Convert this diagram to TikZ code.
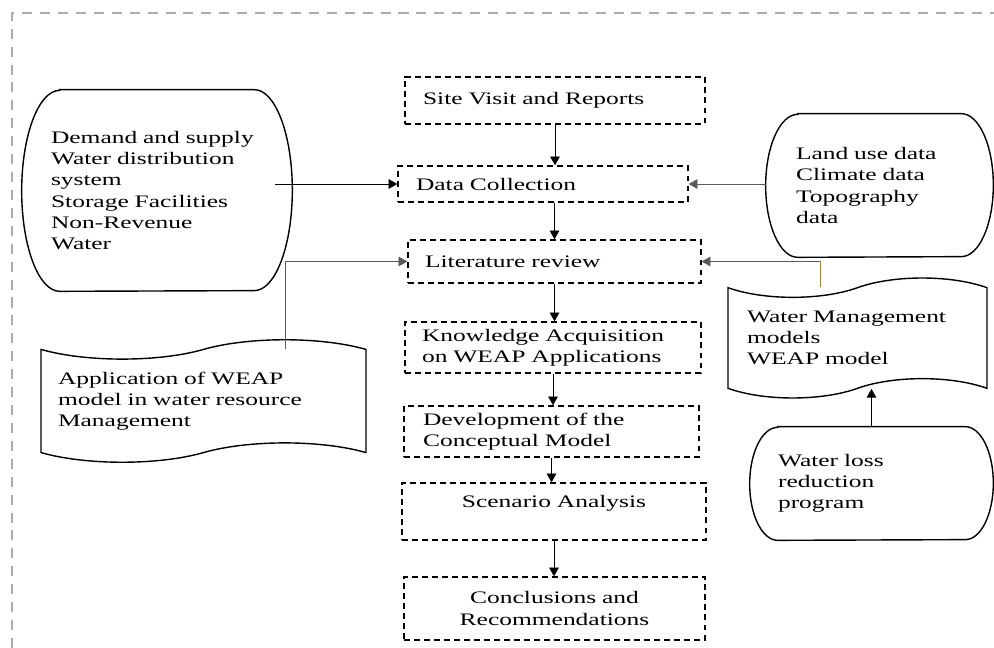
\documentclass[tikz,border=0pt]{standalone}
\usepackage{fontspec}
\setmainfont{Liberation Serif}[FakeStretch=1.45]
\usetikzlibrary{arrows.meta,shapes.symbols}

% outline of a terminal shape round a node: node, bulge, half height
\newcommand{\termoutline}[3]{%
  \draw[termline] ([xshift=#2]#1.north west) -- ([xshift=-#2]#1.north east)
    arc[start angle=90, end angle=-90, x radius=#2, y radius=#3]
    -- ([xshift=#2]#1.south west)
    arc[start angle=270, end angle=90, x radius=#2, y radius=#3] -- cycle;}

\begin{document}
\begin{tikzpicture}[
  x=0.02cm, y=-0.02cm,
  font=\fontsize{10}{12}\selectfont,
  stepbox/.style={draw, line width=0.8pt, dash pattern=on 3.4pt off 2.3pt, rectangle, inner xsep=0pt, inner ysep=1pt, align=left},
  term/.style={rectangle, inner xsep=0pt, align=left},
  termline/.style={line width=0.8pt},
  doc/.style={tape, draw, line width=0.8pt, tape bend top=in and out, tape bend bottom=in and out, tape bend height=11pt, inner xsep=0pt, align=left},
  arr/.style={-{Triangle[length=5pt,width=5.5pt]}, line width=0.5pt},
  grayarr/.style={arr, black!65},
  framedash/.style={draw=black!33, line width=1.4pt, dash pattern=on 5.7pt off 4.5pt}
]
\useasboundingbox (0,0) rectangle (994,648);
\draw[framedash] (12,648) -- (12,13) -- (994,13);

% main chain
\node[stepbox, minimum width=6cm, minimum height=0.94cm, text width=5.28cm] (site) at (555,100.5) {Site Visit and Reports};
\node[stepbox, minimum width=5.8cm, minimum height=0.72cm, text width=5.08cm] (data) at (543,184) {Data Collection};
\node[stepbox, minimum width=5.86cm, minimum height=0.86cm, text width=5.18cm] (lit) at (554.5,261.5) {Literature review};
\node[stepbox, minimum width=5.92cm, minimum height=1.02cm, text width=5.24cm] (know) at (553,347.5) {Knowledge Acquisition\\on WEAP Applications};
\node[stepbox, minimum width=5.9cm, minimum height=1.02cm, text width=5.14cm] (dev) at (551.5,431.5) {Development of the\\Conceptual Model};
\node[stepbox, minimum width=6.08cm, minimum height=1.14cm, text width=6.08cm, align=center, text height=8pt, text depth=13pt] (scen) at (554,511.5) {Scenario Analysis};
\node[stepbox, minimum width=6.02cm, minimum height=1.26cm, text width=6.02cm, align=center] (concl) at (554.5,608.5) {Conclusions and\\Recommendations};

\draw[arr] (site.south) -- (site.south |- data.north);
\draw[arr] (lit.north |- data.south) -- (lit.north);
\draw[arr] (lit.south) -- (lit.south |- know.north);
\draw[arr] (know.south) -- (know.south |- dev.north);
\draw[arr] (dev.south) -- (dev.south |- scen.north);
\draw[arr] (scen.south) -- (scen.south |- concl.north);

% inputs
\node[term, minimum width=5.4cm, minimum height=4.02cm, text width=4.24cm] (demand) at (157,190.5)
  {Demand and supply\\Water distribution\\system\\Storage Facilities\\Non-Revenue\\Water};
\termoutline{demand}{0.76cm}{2.01cm}
\node[term, minimum width=4.54cm, minimum height=2.86cm, text width=3.34cm] (land) at (879.5,185.5)
  {Land use data\\Climate data\\Topography\\data};
\termoutline{land}{0.64cm}{1.43cm}
\node[term, minimum width=4.86cm, minimum height=2.26cm, text width=3.74cm] (wloss) at (871.5,483.5)
  {Water loss\\reduction\\program};
\termoutline{wloss}{0.56cm}{1.13cm}

\node[doc, minimum width=6.5cm, minimum height=2.45cm, text width=5.82cm] (app) at (203.5,401)
  {Application of WEAP\\model in water resource\\Management};
\node[doc, minimum width=5.18cm, minimum height=2.4cm, text width=4.42cm] (wm) at (857.5,338)
  {Water Management\\models\\WEAP model};

\draw[arr] ([xshift=-0.34cm]data.west -| demand.east) -- (data.west);
\draw[grayarr] (land.west |- data.east) -- (data.east);
\draw[grayarr] ([xshift=1.63cm]app.north) |- (lit.west);
\coordinate (wmbend) at ([xshift=-0.75cm]wm.north |- lit.east);
\draw[line width=0.5pt, brown!80!olive] ([xshift=-0.75cm]wm.north) -- (wmbend);
\draw[grayarr] (wmbend) -- (lit.east);
\draw[arr] (wloss.north) -- (wloss.north |- wm.south);
\end{tikzpicture}
\end{document}
